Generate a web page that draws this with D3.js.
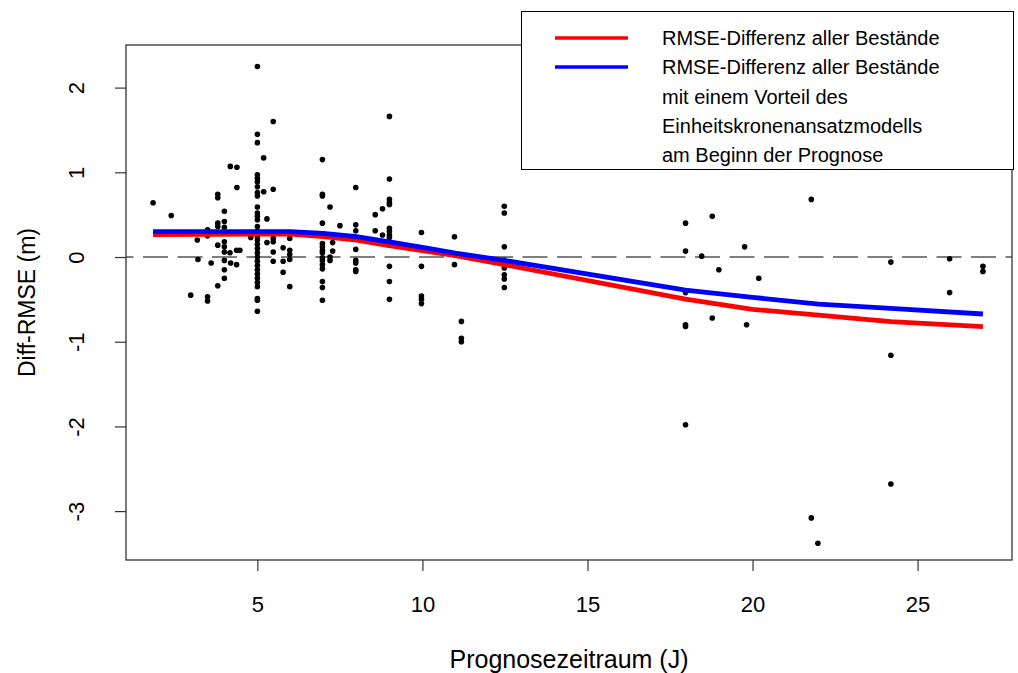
<!DOCTYPE html>
<html>
<head>
<meta charset="utf-8">
<script src="https://cdn.jsdelivr.net/npm/d3@7"></script>
<style>
  html, body { margin: 0; padding: 0; background: #fff; }
  svg { display: block; font-family: Arial, "Liberation Sans", sans-serif; }
</style>
</head>
<body>
<svg id="chart" width="1018" height="673"></svg>
<script>
// Prognosezeitraum (J) of each stand
const pointsX = [
  1.84, 2.39, 2.98, 3.18, 3.2, 3.49, 3.49, 3.49, 3.49, 3.6,
  3.8, 3.8, 3.8, 3.8, 3.8, 3.8, 4.0, 4.0, 4.0, 4.0, 4.0, 4.0, 4.0, 4.0, 4.0,
  4.18, 4.17, 4.19, 4.37, 4.38, 4.38, 4.47, 4.37, 4.8,
  5, 5, 5, 5, 5, 5, 5, 5, 5, 5, 5, 5, 5, 5, 5, 5, 5, 5, 5, 5, 5, 5, 5, 5, 5, 5, 5, 5, 5, 5, 5,
  5.19, 5.19, 5.29, 5.29, 5.48, 5.48, 5.48, 5.48, 5.48, 5.48,
  5.78, 5.78, 5.78, 5.98, 5.98, 5.98, 5.98, 5.98,
  6.97, 6.97, 6.97, 6.97, 6.97, 6.97, 6.97, 6.97, 6.97, 6.97, 6.97, 6.97, 6.97, 6.97, 6.97,
  7.2, 7.28, 7.28, 7.2, 7.2, 7.5,
  7.98, 7.98, 7.98, 7.98, 7.98, 7.98, 7.98, 7.98,
  8.57, 8.57, 8.79, 8.79,
  9, 9, 9, 9, 9, 9, 9, 9, 9, 9, 9, 9, 9,
  9.97, 9.97, 9.97, 9.97, 9.97,
  10.97, 10.97, 11.18, 11.18, 11.18,
  12.48, 12.48, 12.48, 12.48, 12.48, 12.48, 12.48, 12.48,
  17.97, 17.97, 17.97, 17.97, 17.97, 17.97, 18.46, 18.78, 18.78, 18.98,
  19.76, 19.82, 20.19, 21.78, 21.78, 21.98,
  24.19, 24.19, 24.19, 25.97, 25.97, 26.98, 26.98
];

// Diff-RMSE (m) of each stand
const pointsY = [
  0.64, 0.49, -0.45, 0.2, -0.03, 0.32, 0.25, -0.47, -0.52, -0.07,
  0.74, 0.7, 0.4, 0.36, 0.14, -0.34, 0.54, 0.42, 0.35, 0.18, 0.12, 0.06, -0.04, -0.15, -0.25,
  1.07, 0.05, -0.07, 0.08, 1.06, 0.82, 0.08, -0.09, 0.23,
  2.25, 1.45, 1.35, 0.97, 0.93, 0.89, 0.83, 0.76, 0.72, 0.59, 0.52, 0.48, 0.44, 0.36, 0.3,
  0.24, 0.2, 0.15, 0.1, 0.05, 0.0, -0.05, -0.1, -0.15, -0.2, -0.25, -0.3, -0.35, -0.49, -0.51, -0.64,
  1.17, 0.77, 0.45, 0.17, 1.6, 0.8, 0.22, 0.18, 0.06, -0.05,
  0.11, -0.05, -0.18, 0.22, 0.08, 0.03, -0.03, -0.35,
  1.15, 0.74, 0.72, 0.4, 0.16, 0.12, 0.08, 0.05, -0.01, -0.04, -0.09, -0.14, -0.29, -0.36, -0.51,
  0.59, 0.17, 0.07, 0.0, -0.04, 0.37,
  0.82, 0.38, 0.31, 0.09, -0.04, -0.07, -0.15, -0.17,
  0.5, 0.31, 0.57, 0.26,
  1.66, 0.92, 0.68, 0.64, 0.62, 0.34, 0.3, 0.26, 0.23, 0.14, -0.11, -0.29, -0.5,
  0.29, -0.11, -0.46, -0.5, -0.55,
  0.24, -0.09, -0.76, -0.96, -1.0,
  0.6, 0.52, 0.12, -0.04, -0.13, -0.21, -0.26, -0.36,
  0.4, 0.07, -0.42, -0.8, -0.82, -1.98, 0.01, 0.48, -0.72, -0.15,
  0.12, -0.8, -0.25, 0.68, -3.08, -3.38,
  -0.06, -1.16, -2.68, -0.02, -0.42, -0.11, -0.17
];

// Smoothed RMSE difference curves, evaluated at the observed periods
const curveX = [1.84, 5, 6, 7, 8, 9, 10, 11, 12.48, 17.97, 20, 22, 24.19, 26.98];
const redY   = [0.265, 0.27, 0.27, 0.24, 0.2, 0.135, 0.075, 0.015, -0.09, -0.496, -0.618, -0.685, -0.764, -0.823];
const blueY  = [0.30, 0.30, 0.30, 0.28, 0.24, 0.18, 0.115, 0.045, -0.04, -0.39, -0.476, -0.555, -0.606, -0.673];

const xTicks = [5, 10, 15, 20, 25];
const yTicks = [-3, -2, -1, 0, 1, 2];

const legendLabels = [
  "RMSE-Differenz aller Bestände",
  "RMSE-Differenz aller Bestände",
  "mit einem Vorteil des",
  "Einheitskronenansatzmodells",
  "am Beginn der Prognose"
];
const seriesColors = ["#ff0000", "#0000ff"];

const plot = { left: 126, right: 1012, top: 45, bottom: 560 };

const svg = d3.select("#chart");

const x = d3.scaleLinear().domain([1.02, 27.86]).range([plot.left, plot.right]);
const y = d3.scaleLinear().domain([-3.577, 2.503]).range([plot.bottom, plot.top]);

// plain hyphen-minus labels
const plainFormat = d => String(d);

// zero reference line
svg.append("line")
  .attr("x1", plot.left).attr("x2", plot.right)
  .attr("y1", y(0)).attr("y2", y(0))
  .attr("stroke", "#000").attr("stroke-width", 1.2)
  .attr("stroke-dasharray", "25,9.5")
  .attr("stroke-dashoffset", 17.5);

// scatter of individual stands
svg.append("g").selectAll("circle")
  .data(d3.range(pointsX.length))
  .join("circle")
  .attr("cx", i => x(pointsX[i]))
  .attr("cy", i => y(pointsY[i]))
  .attr("r", 2.8)
  .attr("fill", "#000");

// smoothed curves
const line = d3.line().x(d => x(d[0])).y(d => y(d[1]));
[redY, blueY].forEach((vals, k) => {
  svg.append("path")
    .datum(curveX.map((cx, i) => [cx, vals[i]]))
    .attr("d", line)
    .attr("fill", "none")
    .attr("stroke", seriesColors[k])
    .attr("stroke-width", 4.8);
});

// axes
const xAxis = d3.axisBottom(x).tickValues(xTicks).tickSize(11).tickPadding(25).tickFormat(plainFormat);
const gx = svg.append("g").attr("transform", `translate(0,${plot.bottom})`).call(xAxis);
gx.select(".domain").remove();
gx.selectAll(".tick line").attr("stroke", "#333").attr("stroke-width", 1.2);
gx.selectAll(".tick text")
  .attr("fill", "#000")
  .attr("font-size", 22)
  .attr("font-family", "Arial, 'Liberation Sans', sans-serif");

const yAxis = d3.axisLeft(y).tickValues(yTicks).tickSize(11).tickFormat(plainFormat);
const gy = svg.append("g").attr("transform", `translate(${plot.left},0)`).call(yAxis);
gy.select(".domain").remove();
gy.selectAll(".tick line").attr("stroke", "#333").attr("stroke-width", 1.2);
gy.selectAll(".tick text")
  .attr("fill", "#000")
  .attr("font-size", 22)
  .attr("font-family", "Arial, 'Liberation Sans', sans-serif")
  .attr("text-anchor", "middle")
  .attr("dy", null)
  .attr("x", null)
  .attr("transform", "translate(-50,0) rotate(-90)")
  .attr("dominant-baseline", "central");

// plot frame
svg.append("rect")
  .attr("x", plot.left).attr("y", plot.top)
  .attr("width", plot.right - plot.left).attr("height", plot.bottom - plot.top)
  .attr("fill", "none").attr("stroke", "#333").attr("stroke-width", 1.3);

// axis titles
svg.append("text")
  .attr("x", (plot.left + plot.right) / 2).attr("y", 659)
  .attr("text-anchor", "middle").attr("dominant-baseline", "central")
  .attr("font-size", 25)
  .text("Prognosezeitraum (J)");

svg.append("text")
  .attr("transform", `translate(27,${(plot.top + plot.bottom) / 2}) rotate(-90)`)
  .attr("text-anchor", "middle").attr("dominant-baseline", "central")
  .attr("font-size", 23)
  .text("Diff-RMSE (m)");

// legend
const lg = svg.append("g");
lg.append("rect")
  .attr("x", 521.5).attr("y", 11.5).attr("width", 492).attr("height", 158)
  .attr("fill", "#fff").attr("stroke", "#000").attr("stroke-width", 1);
const rowY = [38, 67, 96.5, 126, 155];
[0, 1].forEach(k => {
  lg.append("line")
    .attr("x1", 555).attr("x2", 628)
    .attr("y1", rowY[k]).attr("y2", rowY[k])
    .attr("stroke", seriesColors[k]).attr("stroke-width", 3.5);
});
lg.selectAll("text.leg")
  .data(legendLabels)
  .join("text")
  .attr("class", "leg")
  .attr("x", 662).attr("y", (d, i) => rowY[i])
  .attr("dominant-baseline", "central")
  .attr("font-size", 20)
  .text(d => d);
</script>
</body>
</html>
